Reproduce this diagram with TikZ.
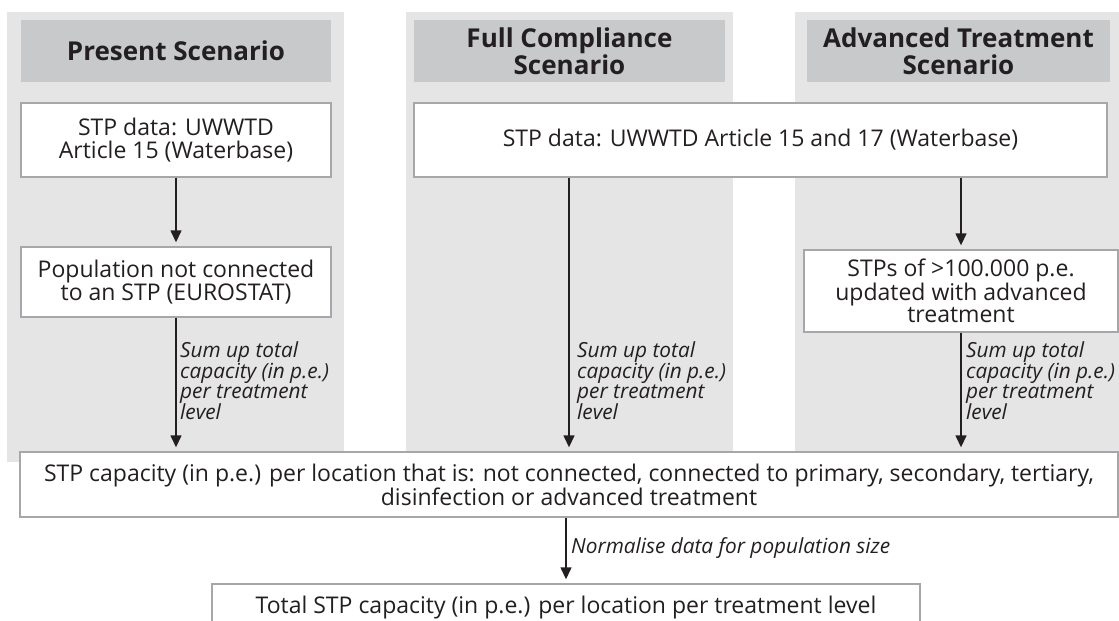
\documentclass[tikz,border=0pt]{standalone}
\usepackage{fontspec}
\setmainfont{Open Sans}
\usepackage{tikz}
\usetikzlibrary{arrows.meta}
\definecolor{column}{RGB}{229,229,229}
\definecolor{heading}{RGB}{200,201,203}
\definecolor{frame}{RGB}{165,167,170}
\definecolor{ink}{RGB}{35,31,32}
\tikzset{
    normal/.style={draw=frame, line width=1.4pt},
    head/.style={fill=heading, text=ink, font=\fontsize{26}{27}\selectfont\bfseries, align=center, inner sep=0, minimum height=62pt}, % scenario titles
    box/.style={style=normal, fill=white, text=ink, font=\fontsize{23}{22.5}\selectfont, align=center, inner sep=0},
    note/.style={text=ink, font=\fontsize{20.8}{19.8}\selectfont\itshape, align=left, inner sep=0}, % arrow comments
    e/.style={draw=ink, line width=1.4pt, shorten >=4pt, -{Triangle[length=12pt, width=11pt]}}
}
\tikzstyle{column}=[fill=column]

\begin{document}
\begin{tikzpicture}[x=1pt, y=-1pt]
          \useasboundingbox (0,0) rectangle (1119,621);
          \clip (0,0) rectangle (1119,621);
          \fill[column] (7,12) rectangle (344,462);
          \fill[column] (406,12) rectangle (733,462);
          \fill[column] (795,12) rectangle (1119,462);

          \node[head, minimum width=310pt] (present) at (176,51) {Present Scenario};
          \node[head, minimum width=311pt] (full) at (569.5,51) {Full Compliance\\Scenario};
          \node[head, minimum width=303pt] (advanced) at (958.5,51) {Advanced Treatment\\Scenario};

          \node[box, minimum width=310pt, minimum height=74pt] (data1) at (176,140) {STP data: UWWTD\\Article 15 (Waterbase)};
          \node[box, minimum width=693pt, minimum height=74pt] (data2) at (760.5,140) {STP data: UWWTD Article 15 and 17 (Waterbase)};
          \node[box, minimum width=310pt, minimum height=70pt] (pop) at (176,282) {Population not connected\\to an STP (EUROSTAT)};
          \node[box, minimum width=314pt, minimum height=82pt] (upd) at (961,291) {STPs of >100.000 p.e.\\updated with advanced\\treatment};
          \node[box, minimum width=1098pt, minimum height=65pt] (cap) at (569,484.5) {STP capacity (in p.e.) per location that is: not connected, connected to primary, secondary, tertiary,\\disinfection or advanced treatment};
          \node[box, minimum width=708pt, minimum height=48pt] (total) at (566,608) {Total STP capacity (in p.e.) per location per treatment level};

          \node[note, anchor=north west] (sum1) at (180,341) {Sum up total\\capacity (in p.e.)\\per treatment\\level};
          \node[note, anchor=north west] (sum2) at (577,341) {Sum up total\\capacity (in p.e.)\\per treatment\\level};
          \node[note, anchor=north west] (sum3) at (966,341) {Sum up total\\capacity (in p.e.)\\per treatment\\level};
          \node[note, anchor=west] (norm) at (571,548) {Normalise data for population size};

          \draw[e] (data1.south) to (pop.north);
          \draw[e] (pop.south) to (pop.south |- cap.north);
          \draw[e] (data2.south -| cap.north) to (cap.north);
          \draw[e] (data2.south -| upd.north) to (upd.north);
          \draw[e] (upd.south) to (upd.south |- cap.north);
          \draw[e] (cap.south -| total.north) to (total.north);
        \end{tikzpicture}
\end{document}
